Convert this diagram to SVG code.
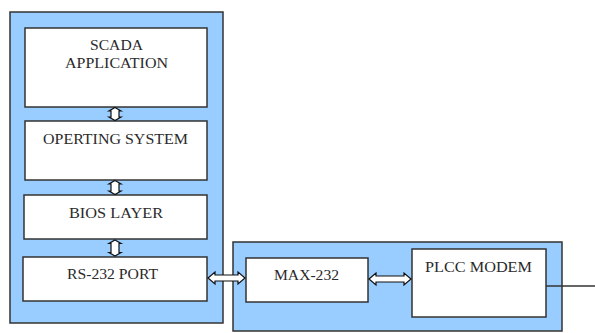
<svg xmlns="http://www.w3.org/2000/svg" width="595" height="333" viewBox="0 0 595 333">
  <style>
    .panel { fill: #99ccff; stroke: #333; stroke-width: 1.5; }
    .box { fill: #fff; stroke: #333; stroke-width: 1.5; }
    .lbl { font-family: "Liberation Serif", "Times New Roman", serif; font-size: 15px; fill: #2a2a2a; }
    .arr { fill: #fff; stroke: #111; stroke-width: 1.2; stroke-linejoin: miter; }
    .wire { stroke: #333; stroke-width: 1.5; fill: none; }
  </style>

  <!-- host computer panel -->
  <rect id="host-panel" class="panel" x="10" y="12" width="213" height="311"/>
  <!-- modem panel -->
  <rect id="modem-panel" class="panel" x="233" y="242" width="329" height="89"/>

  <g id="scada">
    <rect class="box" x="25" y="28" width="182" height="79"/>
    <text class="lbl" x="90" y="50" textLength="53" lengthAdjust="spacingAndGlyphs">SCADA</text>
    <text class="lbl" x="65" y="68" textLength="103" lengthAdjust="spacingAndGlyphs">APPLICATION</text>
  </g>

  <g id="os">
    <rect class="box" x="25" y="121" width="182" height="59"/>
    <text class="lbl" x="43" y="144" textLength="145" lengthAdjust="spacingAndGlyphs">OPERTING  SYSTEM</text>
  </g>

  <g id="bios">
    <rect class="box" x="24" y="195" width="183" height="44"/>
    <text class="lbl" x="69" y="218" textLength="94" lengthAdjust="spacingAndGlyphs">BIOS  LAYER</text>
  </g>

  <g id="rs232">
    <rect class="box" x="23" y="257" width="184" height="44"/>
    <text class="lbl" x="67" y="279" textLength="91" lengthAdjust="spacingAndGlyphs">RS-232  PORT</text>
  </g>

  <g id="max232">
    <rect class="box" x="246" y="258" width="122" height="44"/>
    <text class="lbl" x="274" y="280" textLength="65" lengthAdjust="spacingAndGlyphs">MAX-232</text>
  </g>

  <g id="plcc">
    <rect class="box" x="412" y="249" width="134" height="68"/>
    <text class="lbl" x="425" y="272" textLength="107" lengthAdjust="spacingAndGlyphs">PLCC  MODEM</text>
  </g>

  <g id="connectors">
    <!-- vertical two-way block arrows between layers -->
    <path class="arr" d="M115,107.5 L121,111 L119,111 L119,117 L121,117 L115,120.5 L109,117 L111,117 L111,111 L109,111 Z"/>
    <path class="arr" d="M115,180.5 L121,184 L119,184 L119,191 L121,191 L115,194.5 L109,191 L111,191 L111,184 L109,184 Z"/>
    <path class="arr" d="M115,240 L121,243.5 L119,243.5 L119,252.5 L121,252.5 L115,256 L109,252.5 L111,252.5 L111,243.5 L109,243.5 Z"/>
    <!-- horizontal two-way block arrows -->
    <path class="arr" d="M208,278 L215,272 L215,275 L238,275 L238,272 L245,278 L238,284 L238,281 L215,281 L215,284 Z"/>
    <path class="arr" d="M369,279 L376,273 L376,276 L404,276 L404,273 L411,279 L404,285 L404,282 L376,282 L376,285 Z"/>
    <!-- line out from the modem -->
    <line class="wire" x1="546" y1="286" x2="595" y2="286"/>
  </g>
</svg>
